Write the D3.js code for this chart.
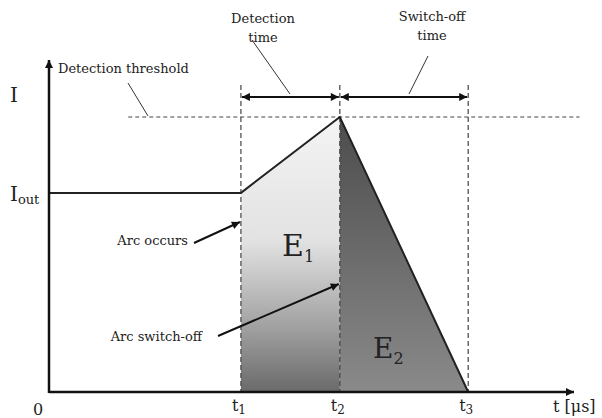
<!DOCTYPE html>
<html>
<head>
<meta charset="utf-8">
<script src="https://cdn.jsdelivr.net/npm/d3@7"></script>
<style>
  body { margin: 0; background: #fff; }
  svg text { font-family: "DejaVu Serif", "Liberation Serif", serif; fill: #222; }
</style>
</head>
<body>
<svg id="chart"></svg>
<script>
// time instants (t1, t2, t3) in chart units
const tNames = ['t1', 't2', 't3'];
const tValues = [2.93, 4.44, 6.40];
// current waveform: time, current
const waveT = [0, 2.93, 4.44, 6.40];
const waveI = [0.724, 0.724, 1.0, 0];
const threshold = 1.0;
const tMax = 8;
const iMax = 1.2;

const width = 602, height = 418;
const margin = {left: 49, right: 29, top: 62, bottom: 26};

const svg = d3.select('#chart').attr('width', width).attr('height', height);

const x = d3.scaleLinear().domain([0, tMax]).range([margin.left, width - margin.right]);
const y = d3.scaleLinear().domain([0, iMax]).range([height - margin.bottom, margin.top]);

const defs = svg.append('defs');
defs.append('marker')
    .attr('id', 'arr')
    .attr('viewBox', '0 0 10 10')
    .attr('refX', 10).attr('refY', 5)
    .attr('markerWidth', 10).attr('markerHeight', 8)
    .attr('markerUnits', 'userSpaceOnUse')
    .attr('orient', 'auto-start-reverse')
  .append('path').attr('d', 'M0,0L10,5L0,10z').attr('fill', '#111');

const g1 = defs.append('linearGradient').attr('id', 'gE1')
    .attr('x1', 0).attr('y1', 0).attr('x2', 0).attr('y2', 1);
g1.append('stop').attr('offset', '0%').attr('stop-color', '#f4f4f4');
g1.append('stop').attr('offset', '45%').attr('stop-color', '#e2e2e2');
g1.append('stop').attr('offset', '75%').attr('stop-color', '#a4a4a4');
g1.append('stop').attr('offset', '100%').attr('stop-color', '#6a6a6a');

const g2 = defs.append('linearGradient').attr('id', 'gE2')
    .attr('x1', 0).attr('y1', 0).attr('x2', 0).attr('y2', 1);
g2.append('stop').attr('offset', '0%').attr('stop-color', '#4c4c4c');
g2.append('stop').attr('offset', '100%').attr('stop-color', '#8a8a8a');

const wave = waveT.map((t, i) => [t, waveI[i]]);
const line = d3.line().x(d => x(d[0])).y(d => y(d[1]));

// E1 area (t1..t2)
svg.append('path')
    .attr('d', line([[waveT[1], 0], [waveT[1], waveI[1]], [waveT[2], waveI[2]], [waveT[2], 0]]) + 'Z')
    .attr('fill', 'url(#gE1)');
// E2 area (t2..t3)
svg.append('path')
    .attr('d', line([[waveT[2], 0], [waveT[2], waveI[2]], [waveT[3], waveI[3]]]) + 'Z')
    .attr('fill', 'url(#gE2)');

// threshold line
svg.append('line')
    .attr('x1', x(1.21)).attr('x2', x(8.1))
    .attr('y1', y(threshold)).attr('y2', y(threshold))
    .attr('stroke', '#444').attr('stroke-width', 1.2).attr('stroke-dasharray', '4,3');

// vertical dashed lines
svg.selectAll('.vline').data(tValues).join('line')
    .attr('class', 'vline')
    .attr('x1', d => x(d)).attr('x2', d => x(d))
    .attr('y1', y(1.116)).attr('y2', y(0))
    .attr('stroke', '#444').attr('stroke-width', 1.2).attr('stroke-dasharray', '5,3');

// waveform
svg.append('path')
    .attr('d', line(wave))
    .attr('fill', 'none').attr('stroke', '#222').attr('stroke-width', 2);

// axes
svg.append('line')
    .attr('x1', x(0)).attr('x2', x(tMax) + 1)
    .attr('y1', y(0)).attr('y2', y(0))
    .attr('stroke', '#111').attr('stroke-width', 2.5).attr('marker-end', 'url(#arr)');
svg.append('line')
    .attr('x1', x(0)).attr('x2', x(0))
    .attr('y1', y(0) + 1).attr('y2', y(iMax) - 2)
    .attr('stroke', '#111').attr('stroke-width', 2.5).attr('marker-end', 'url(#arr)');

// dimension arrows
const dimY = y(1.073);
[[tValues[0], tValues[1]], [tValues[1], tValues[2]]].forEach(([a, b]) => {
  svg.append('line')
      .attr('x1', x(a) + 1).attr('x2', x(b) - 1)
      .attr('y1', dimY).attr('y2', dimY)
      .attr('stroke', '#111').attr('stroke-width', 2)
      .attr('marker-start', 'url(#arr)').attr('marker-end', 'url(#arr)');
});

// leader lines (thin)
const leaders = [[252, 40, 290, 94], [428, 56, 409, 94], [128, 83, 148, 116]];
svg.selectAll('.leader').data(leaders).join('line')
    .attr('x1', d => d[0]).attr('y1', d => d[1]).attr('x2', d => d[2]).attr('y2', d => d[3])
    .attr('stroke', '#333').attr('stroke-width', 1);

// arrows to features
svg.append('line')
    .attr('x1', 194).attr('y1', 243).attr('x2', x(tValues[0]) - 1).attr('y2', 222)
    .attr('stroke', '#111').attr('stroke-width', 2).attr('marker-end', 'url(#arr)');
svg.append('line')
    .attr('x1', 218).attr('y1', 336).attr('x2', x(tValues[1]) - 1).attr('y2', 284)
    .attr('stroke', '#111').attr('stroke-width', 2).attr('marker-end', 'url(#arr)');

// texts
function txt(xp, yp, s, size, anchor) {
  return svg.append('text').attr('x', xp).attr('y', yp)
      .attr('font-size', size).attr('text-anchor', anchor || 'start').text(s);
}
txt(263, 23, 'Detection', 13, 'middle');
txt(263, 42, 'time', 13, 'middle');
txt(432, 21, 'Switch-off', 13, 'middle');
txt(432, 40, 'time', 13, 'middle');
txt(58, 73, 'Detection threshold', 13);
txt(188, 245, 'Arc occurs', 13, 'end');
txt(202, 341, 'Arc switch-off', 13, 'end');

txt(10, 102, 'I', 20);
const iout = txt(10, 201, 'I', 20);
iout.append('tspan').attr('font-size', 13).attr('dy', 3).text('out');
txt(38, 415, '0', 16, 'middle');

// E labels
const e1 = txt(282, 256, 'E', 30);
e1.append('tspan').attr('font-size', 16).attr('dy', 6).text('1');
const e2 = txt(373, 358, 'E', 28);
e2.append('tspan').attr('font-size', 16).attr('dy', 6).text('2');

// t tick labels
svg.selectAll('.tlab').data(tValues).join('text')
    .attr('class', 'tlab')
    .attr('x', d => x(d) - 2).attr('y', 411)
    .attr('font-size', 16).attr('text-anchor', 'middle')
    .each(function(d, i) {
      const s = d3.select(this);
      s.append('tspan').text('t');
      s.append('tspan').attr('font-size', 12).attr('dy', 3).text(tNames[i].slice(1));
    });
txt(553, 412, 't [\u03bcs]', 16);
</script>
</body>
</html>
